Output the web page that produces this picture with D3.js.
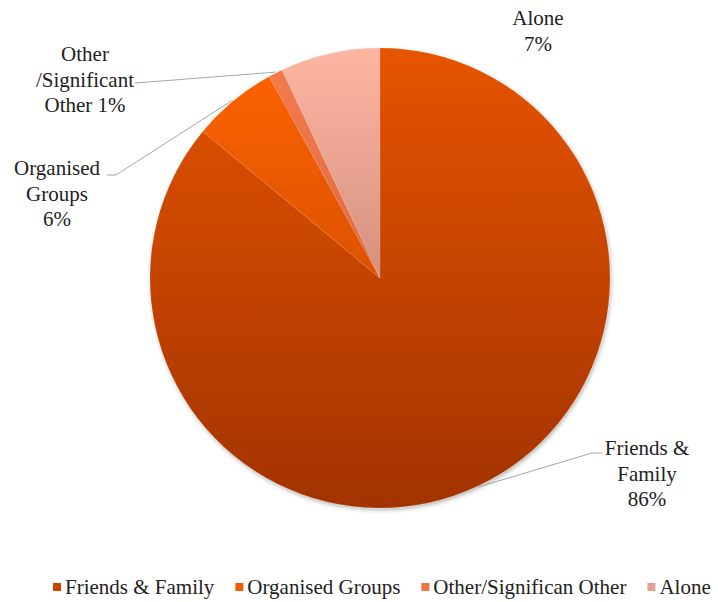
<!DOCTYPE html>
<html>
<head>
<meta charset="utf-8">
<script src="https://cdn.jsdelivr.net/npm/d3@7"></script>
<style>
  html, body { margin: 0; padding: 0; background: #fff; }
  svg { display: block; }
  text { font-family: "Liberation Serif", "DejaVu Serif", "Times New Roman", serif; font-size: 21px; fill: #222; }
  .leader { fill: none; stroke: #a6a6a6; stroke-width: 1px; }
</style>
</head>
<body>
<svg id="chart" width="718" height="602"></svg>
<script>
// data
const categories = ["Friends & Family", "Organised Groups", "Other/Significan Other", "Alone"];
const shares = [86, 6, 1, 7];
const labelLines = [
  ["Friends &", "Family", "86%"],
  ["Organised", "Groups", "6%"],
  ["Other", "/Significant", "Other 1%"],
  ["Alone", "7%"]
];

// colours: top / bottom of each slice gradient, legend swatch
const topColors = ["#e65400", "#ff6400", "#f67c4e", "#fcb6a2"];
const bottomColors = ["#a23300", "#b84000", "#c85634", "#b06a5c"];
const swatch = ["#c84600", "#f25c00", "#ec744a", "#e3a091"];

// layout for the labels (label centre x, first baseline y, leader elbow)
const labelPos = [
  { x: 647, y: 455, elbow: [[592, 453], [602, 453]] },
  { x: 57, y: 175, elbow: [[116, 175], [107, 175]] },
  { x: 85, y: 61, elbow: [[135, 83]] },
  { x: 538, y: 25, elbow: null }
];

const svg = d3.select("#chart"),
  cx = 380, cy = 278, radius = 230;

const defs = svg.append("defs");
defs.append("filter").attr("id", "shadow")
  .attr("x", "-10%").attr("y", "-10%").attr("width", "120%").attr("height", "120%")
  .append("feDropShadow")
  .attr("dx", 1).attr("dy", 2).attr("stdDeviation", 2)
  .attr("flood-color", "#000").attr("flood-opacity", 0.3);

categories.forEach((c, i) => {
  let g = defs.append("linearGradient").attr("id", "grad" + i)
    .attr("gradientUnits", "userSpaceOnUse")
    .attr("x1", 0).attr("x2", 0).attr("y1", -radius).attr("y2", radius);
  g.append("stop").attr("offset", "0%").attr("stop-color", topColors[i]);
  g.append("stop").attr("offset", "100%").attr("stop-color", bottomColors[i]);
});

let pie = d3.pie().sort(null).value(d => d.value);
let arcs = pie(categories.map((c, i) => ({ name: c, value: shares[i], idx: i })));

let arc = d3.arc().innerRadius(0).outerRadius(radius);

let pieG = svg.append("g")
  .attr("transform", "translate(" + cx + "," + cy + ")");

pieG.append("g").attr("filter", "url(#shadow)")
  .selectAll("path")
  .data(arcs)
  .enter().append("path")
  .attr("d", arc)
  .attr("fill", d => "url(#grad" + d.data.idx + ")")
  .attr("stroke", "rgba(255,255,255,0.18)")
  .attr("stroke-width", 0.6);

// leader lines start on the rim at the slice's mid angle
function rimPoint(d) {
  let a = (d.startAngle + d.endAngle) / 2;
  return [cx + Math.sin(a) * (radius + 1), cy - Math.cos(a) * (radius + 1)];
}

let line = d3.line();
arcs.forEach((d, i) => {
  let lp = labelPos[i];
  if (!lp.elbow) return;
  let pts = [rimPoint(d)].concat(lp.elbow);
  svg.append("path").attr("class", "leader").attr("d", line(pts));
});

// data labels
arcs.forEach((d, i) => {
  let lp = labelPos[i];
  let t = svg.append("text").attr("class", "lbl")
    .attr("text-anchor", "middle");
  labelLines[i].forEach((s, k) => {
    t.append("tspan").attr("x", lp.x).attr("y", lp.y + k * 25.5).text(s);
  });
});

// legend
let legend = svg.append("g").attr("class", "legend");
let lx = 53, ly = 587;
categories.forEach((c, i) => {
  let item = legend.append("g").attr("transform", "translate(" + lx + "," + ly + ")");
  item.append("rect").attr("x", 0).attr("y", -4).attr("width", 8).attr("height", 8)
    .attr("fill", swatch[i]);
  let txt = item.append("text").attr("x", 12).attr("y", 7).text(c);
  let w = txt.node().getComputedTextLength();
  lx += 12 + w + 21;
});
</script>
</body>
</html>
